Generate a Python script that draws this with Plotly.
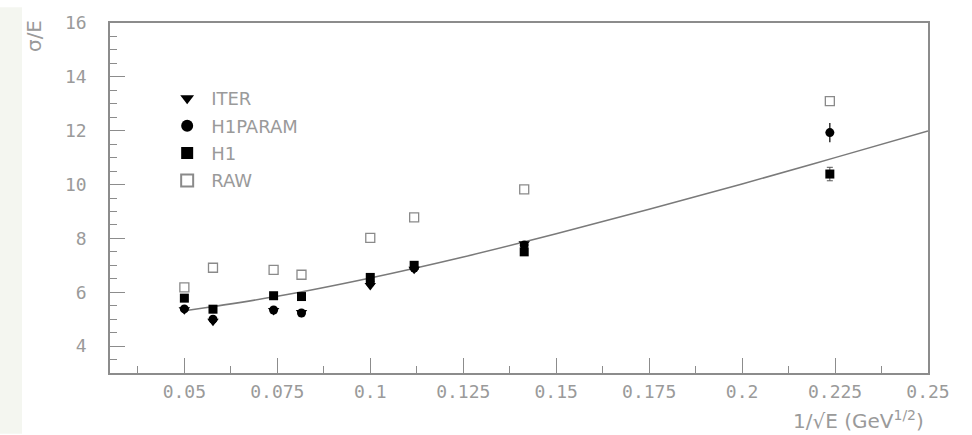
import plotly.graph_objects as go

# 1/sqrt(E) positions of the measurements
x_vals = [0.05, 0.0577, 0.0740, 0.0815, 0.1, 0.1118, 0.1414, 0.2236]

iter_y = [5.35, 4.92, 5.32, 5.25, 6.25, 6.85, 7.80, None]
h1param_y = [5.38, 5.00, 5.34, 5.23, 6.35, 6.90, 7.75, 11.93]
h1param_err = [0, 0, 0, 0, 0, 0, 0, 0.36]
h1_y = [5.78, 5.37, 5.87, 5.84, 6.55, 7.00, 7.50, 10.39]
h1_err = [0, 0, 0, 0, 0, 0, 0, 0.25]
raw_y = [6.18, 6.91, 6.83, 6.65, 8.02, 8.78, 9.82, 13.10]

# fitted resolution curve
fit_x = [0.05, 0.075, 0.1, 0.125, 0.15, 0.175, 0.2, 0.225, 0.25]
fit_y = [5.31, 5.85, 6.53, 7.31, 8.17, 9.08, 10.02, 11.00, 11.99]

legend_names = ["ITER", "H1PARAM", "H1", "RAW"]

AX = "#8c8c8c"
TXT = "#9a9a9a"

fig = go.Figure()

fig.add_trace(go.Scatter(x=fit_x, y=fit_y, mode="lines", line=dict(color="#7a7a7a", width=1.5, shape="spline"),
                         showlegend=False, hoverinfo="skip"))

fig.add_trace(go.Scatter(x=x_vals, y=raw_y, mode="markers", name=legend_names[3], legendgroup="d", legendrank=4,
                         marker=dict(symbol="square-open", size=9, color="#8a8a8a", line=dict(width=1.3))))
fig.add_trace(go.Scatter(x=x_vals, y=iter_y, mode="markers", name=legend_names[0], legendgroup="a", legendrank=1,
                         marker=dict(symbol="triangle-down", size=10, color="black")))
fig.add_trace(go.Scatter(x=x_vals, y=h1param_y, mode="markers", name=legend_names[1], legendgroup="b", legendrank=2,
                         marker=dict(symbol="circle", size=9, color="black"),
                         error_y=dict(type="data", array=h1param_err, visible=True, color="black", thickness=1.2, width=0)))
fig.add_trace(go.Scatter(x=x_vals, y=h1_y, mode="markers", name=legend_names[2], legendgroup="c", legendrank=3,
                         marker=dict(symbol="square", size=9, color="black"),
                         error_y=dict(type="data", array=h1_err, visible=True, color="#555", thickness=1, width=3)))

tickfont = dict(family="DejaVu Sans Mono", size=18, color=TXT)

fig.update_xaxes(range=[0.03, 0.25], tickvals=[0.05, 0.075, 0.1, 0.125, 0.15, 0.175, 0.2, 0.225, 0.25],
                 ticktext=["0.05", "0.075", "0.1", "0.125", "0.15", "0.175", "0.2", "0.225", "0.25"],
                 ticks="inside", ticklen=15, tickwidth=1.2, tickcolor=AX,
                 minor=dict(dtick=0.0125, tick0=0, ticks="inside", ticklen=7, tickwidth=1.2, tickcolor=AX),
                 showline=True, linecolor=AX, linewidth=1.5, mirror=True, showgrid=False, zeroline=False,
                 tickfont=tickfont, ticklabelstandoff=2)
fig.update_yaxes(range=[3, 16], tickvals=[4, 6, 8, 10, 12, 14, 16],
                 ticks="inside", ticklen=15, tickwidth=1.2, tickcolor=AX,
                 minor=dict(dtick=0.5, tick0=0, ticks="inside", ticklen=7, tickwidth=1.2, tickcolor=AX),
                 showline=True, linecolor=AX, linewidth=1.5, mirror=True, showgrid=False, zeroline=False,
                 tickfont=tickfont, ticklabelstandoff=18)

fig.add_annotation(text="σ/E", textangle=-90, xref="paper", yref="paper", x=-0.092, y=0.962,
                   xanchor="center", yanchor="middle", showarrow=False,
                   font=dict(family="DejaVu Sans", size=20, color=TXT))
fig.add_annotation(text="1/√E (GeV<sup>1/2</sup>)", xref="paper", yref="paper", x=0.997, y=-0.135,
                   xanchor="right", yanchor="middle", showarrow=False,
                   font=dict(family="DejaVu Sans", size=20, color=TXT))

fig.add_shape(type="rect", xref="paper", yref="paper", x0=-110 / 818, x1=-88 / 818, y0=-62 / 357, y1=1 + 16 / 357,
              fillcolor="#f4f6f0", line=dict(width=0), layer="below")

fig.update_layout(
    width=972, height=435,
    margin=dict(l=110, r=44, t=16, b=62),
    plot_bgcolor="white", paper_bgcolor="white",
    legend=dict(x=0.065, y=0.837, xanchor="left", yanchor="top", traceorder="grouped", tracegroupgap=1,
                itemsizing="constant", itemwidth=38, font=dict(family="DejaVu Sans", size=18, color=TXT),
                bgcolor="rgba(0,0,0,0)"),
)

fig.write_html("out.html")
